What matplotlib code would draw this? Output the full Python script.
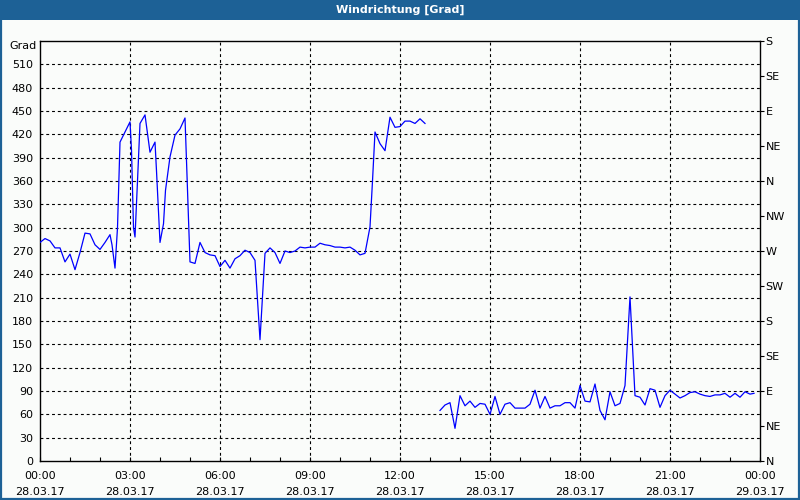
import matplotlib
matplotlib.use("Agg")
import matplotlib.pyplot as plt
from matplotlib.patches import Rectangle
import numpy as np

# ---- data (minutes since 28.03.17 00:00, wind direction in degrees) ----
t1 = [0, 10, 20, 30, 40, 50, 60, 70, 80, 90, 100, 110, 120, 130, 140, 144, 150, 155, 160,
      170, 180, 183, 187, 190, 195, 200, 210, 220, 230, 233, 240, 247, 251, 260, 270, 280,
      290, 293, 297, 300, 310, 320, 330, 340, 350, 360, 370, 380, 390, 400, 410, 420, 430,
      440, 450, 460, 470, 480, 490, 500, 510, 520, 530, 540, 550, 560, 570, 580, 590, 600,
      610, 620, 630, 640, 650, 660, 665, 670, 680, 690, 700, 710, 720, 730, 740, 750, 760, 770]
v1 = [281, 286, 283, 274, 274, 256, 266, 246, 268, 293, 292, 278, 272, 281, 291, 278, 248, 300, 410,
      423, 436, 400, 300, 288, 360, 434, 445, 397, 410, 373, 281, 305, 348, 391, 419, 427,
      441, 386, 311, 256, 254, 281, 268, 265, 264, 250, 258, 248, 260, 264, 271, 268, 258,
      156, 267, 274, 268, 254, 270, 268, 270, 275, 274, 275, 275, 280, 278, 277, 275, 275,
      274, 275, 271, 265, 267, 301, 360, 423, 408, 399, 442, 429, 430, 437, 437, 434, 440, 434]

t2 = [800, 810, 820, 830, 840, 850, 860, 870, 880, 890, 900, 910, 920, 930, 940, 950, 960,
      970, 980, 990, 1000, 1010, 1020, 1030, 1040, 1050, 1060, 1070, 1080, 1090, 1100, 1110,
      1120, 1130, 1140, 1150, 1160, 1170, 1180, 1190, 1200, 1210, 1220, 1230, 1240, 1250,
      1260, 1270, 1280, 1290, 1300, 1310, 1320, 1330, 1340, 1350, 1360, 1370, 1380, 1390,
      1400, 1410, 1420, 1428]
v2 = [65, 72, 75, 42, 84, 71, 77, 69, 74, 73, 60, 83, 60, 73, 75, 68, 68,
      68, 73, 91, 68, 83, 68, 71, 71, 75, 75, 68, 97, 77, 76, 99,
      65, 53, 89, 71, 74, 97, 211, 84, 82, 72, 93, 91, 69, 84,
      91, 86, 81, 84, 88, 89, 86, 84, 83, 85, 85, 87, 82, 87,
      82, 89, 86, 87]

x_tick_pos = [0, 180, 360, 540, 720, 900, 1080, 1260, 1440]
x_tick_labels = ["00:00\n28.03.17", "03:00\n28.03.17", "06:00\n28.03.17", "09:00\n28.03.17",
                 "12:00\n28.03.17", "15:00\n28.03.17", "18:00\n28.03.17", "21:00\n28.03.17",
                 "00:00\n29.03.17"]
y_ticks = list(range(0, 511, 30))
compass_pos = list(range(0, 541, 45))
compass_labels = ["N", "NE", "E", "SE", "S", "SW", "W", "NW", "N", "NE", "E", "SE", "S"]

# ---- styling ----
BG = "#fafcfa"
BLUE_BAR = "#1d6196"
FS = 8

plt.rcParams['font.family'] = ['DejaVu Sans']
fig = plt.figure(figsize=(8, 5), dpi=100, facecolor=BG)

# title bar and frame
fig.patches.append(Rectangle((0, 0.96), 1, 0.04, transform=fig.transFigure,
                             facecolor=BLUE_BAR, edgecolor='none', zorder=0))
fig.patches.append(Rectangle((0.001, 0.002), 0.998, 0.996, transform=fig.transFigure,
                             facecolor='none', edgecolor=BLUE_BAR, linewidth=1.6, zorder=5))
fig.text(0.5, 0.98, "Windrichtung [Grad]", color='white', fontsize=FS, fontweight='bold',
         ha='center', va='center')

ax = fig.add_axes([40/800, 39/500, 720/800, 420/500], facecolor=BG)
ax.plot(t1, v1, color='#0000ff', linewidth=0.9, zorder=3)
ax.plot(t2, v2, color='#0000ff', linewidth=0.9, zorder=3)

ax.set_xlim(0, 1440)
ax.set_ylim(0, 540)

for s in ax.spines.values():
    s.set_color('black')
    s.set_linewidth(1.0)

ax.set_xticks(x_tick_pos)
ax.set_xticklabels(x_tick_labels, fontsize=FS, linespacing=1.8)
ax.set_xticks(list(range(0, 1441, 60)), minor=True)
ax.tick_params(axis='x', which='both', direction='in', length=3, width=0.8, pad=7)
ax.set_yticks(y_ticks)
ax.set_yticklabels([str(v) for v in y_ticks], fontsize=FS)
ax.tick_params(axis='y', which='both', length=0, pad=5)

# grid
dash = (0, (2.6, 2.6))
for y in y_ticks[1:]:
    ax.axhline(y, color='black', linewidth=0.8, linestyle=dash, zorder=1)
for x in x_tick_pos[1:-1]:
    ax.axvline(x, color='black', linewidth=0.8, linestyle=dash, zorder=1)

ax2 = ax.twinx()
ax2.set_ylim(0, 540)
ax2.set_yticks(compass_pos)
ax2.set_yticklabels(compass_labels, fontsize=FS)
ax2.tick_params(axis='y', direction='out', length=3, width=0.8, pad=1)
for s in ax2.spines.values():
    s.set_visible(False)

fig.text(37/800, 1 - 46/500, "Grad", fontsize=FS, ha='right', va='center')

fig.savefig("out.png", dpi=100, facecolor=BG)
